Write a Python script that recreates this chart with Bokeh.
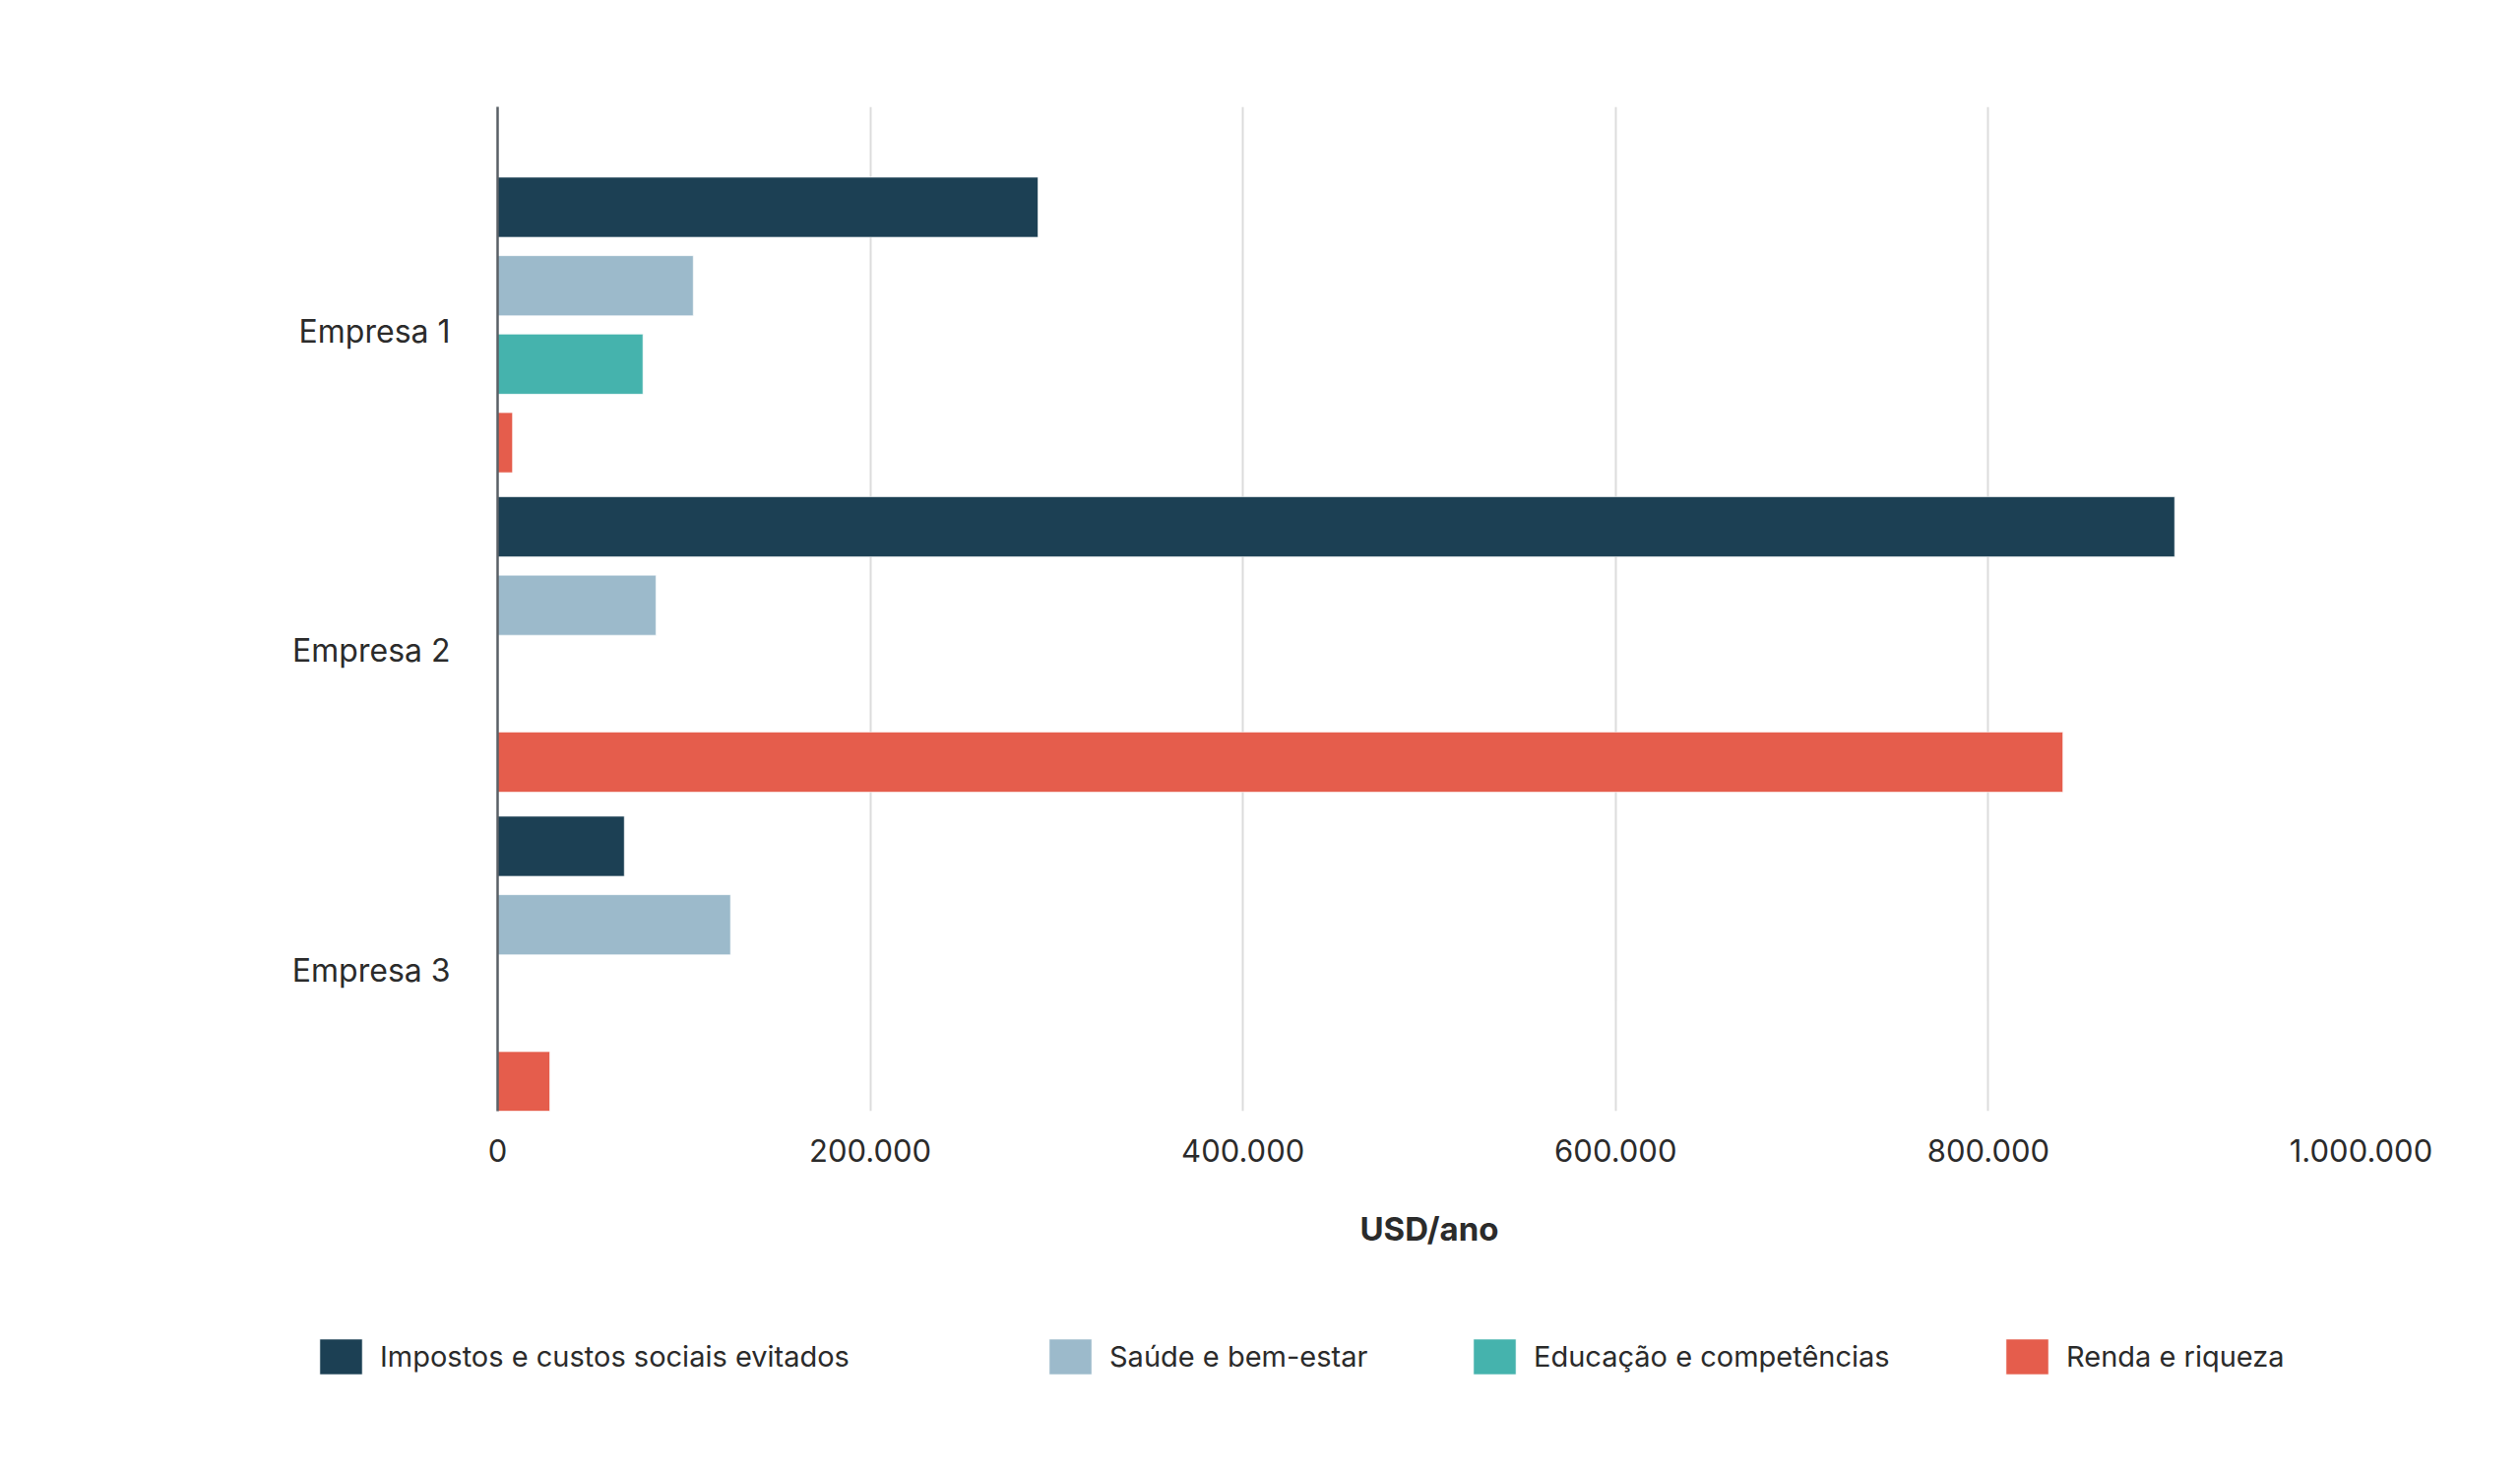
import numpy as np
from bokeh.plotting import figure
from bokeh.models import (ColumnDataSource, Range1d, FixedTicker, CustomJSTickFormatter,
                          Legend, LegendItem)
from bokeh.transform import dodge
from bokeh.embed import file_html
from bokeh.resources import INLINE

# ---- data ----
companies = ["Empresa 1", "Empresa 2", "Empresa 3"]
series_names = ["Impostos e custos sociais evitados", "Saúde e bem-estar",
                "Educação e competências", "Renda e riqueza"]
impostos = [290000, 900000, 68000]
saude = [105000, 85000, 125000]
educacao = [78000, None, None]
renda = [8000, 840000, 28000]
x_ticks = [0, 200000, 400000, 600000, 800000, 1000000]

colors = ["#1C4054", "#9CBACB", "#45B3AD", "#E55D4C"]
FONT = "Inter"
TXT = "#2b2b2b"
W = 2544

pos = list(range(len(companies)))
src = ColumnDataSource(dict(
    pos=pos,
    impostos=np.array(impostos, dtype=float),
    saude=np.array([np.nan if v is None else v for v in saude], dtype=float),
    educacao=np.array([np.nan if v is None else v for v in educacao], dtype=float),
    renda=np.array(renda, dtype=float),
))
cols = ["impostos", "saude", "educacao", "renda"]

p = figure(width=W, height=1330, output_backend="svg", toolbar_location=None,
           x_range=Range1d(0, 1000000), y_range=Range1d(2.4607, -0.6826),
           min_border_left=505, min_border_right=146, min_border_top=108,
           min_border_bottom=202)
p.outline_line_color = None

slot = 0.2456
bar_h = 0.188
for i, c in enumerate(cols):
    off = (i - 1.5) * slot
    p.hbar(y=dodge("pos", off), left=0, right=c, height=bar_h, source=src,
           fill_color=colors[i], line_color="white", line_width=1, line_alpha=0.6)

# grid
p.ygrid.visible = False
p.xgrid.ticker = FixedTicker(ticks=x_ticks)
p.xgrid.grid_line_color = "#dcdcdc"
p.xgrid.grid_line_width = 2

# x axis
xa = p.xaxis[0]
xa.ticker = FixedTicker(ticks=x_ticks)
xa.formatter = CustomJSTickFormatter(code="""
    return Math.round(tick).toString().replace(/\\B(?=(\\d{3})+(?!\\d))/g, '.');
""")
xa.axis_line_color = None
xa.major_tick_line_color = None
xa.minor_tick_line_color = None
xa.major_label_text_font = FONT
xa.major_label_text_font_size = "31px"
xa.major_label_text_color = TXT
xa.major_label_standoff = 22
xa.axis_label = "USD/ano"
xa.axis_label_text_font = FONT
xa.axis_label_text_font_size = "33px"
xa.axis_label_text_font_style = "bold"
xa.axis_label_text_color = TXT
xa.axis_label_standoff = 45

# y axis (labels sit slightly below each group's centre, as in the reference)
label_shift = 0.0185
ya = p.yaxis[0]
ya.ticker = FixedTicker(ticks=[q + label_shift for q in pos])
ya.formatter = CustomJSTickFormatter(args=dict(names=companies), code="""
    return names[Math.round(tick)];
""")
ya.axis_line_color = "#5a6066"
ya.axis_line_width = 2.5
ya.major_tick_line_color = None
ya.minor_tick_line_color = None
ya.major_label_text_font = FONT
ya.major_label_text_font_size = "32px"
ya.major_label_text_color = TXT
ya.major_label_standoff = 42

# ---- legend strip below the chart (separate root, so it is not frame-aligned) ----
# its ranges keep the proxy bars out of view; only their legend swatches show
lf = figure(width=W, height=120, output_backend="svg", toolbar_location=None,
            x_range=Range1d(-2, -1), y_range=Range1d(-2, -1),
            min_border=0, x_axis_type=None, y_axis_type=None)
lf.outline_line_color = None
lf.grid.visible = False
leg_x = [319, 1060, 1491, 2032]
for i, c in enumerate(cols):
    r = lf.hbar(y="pos", left=0, right=c, height=bar_h, source=src,
                fill_color=colors[i], line_color="white", line_width=1, line_alpha=0.6)
    lg = Legend(items=[LegendItem(label=series_names[i], renderers=[r])],
                location=(leg_x[i], 50), orientation="horizontal",
                glyph_width=54, glyph_height=45, label_height=45, label_standoff=13,
                label_text_font=FONT, label_text_font_size="29px",
                label_text_color=TXT, padding=0, margin=0, spacing=0,
                border_line_color=None, background_fill_alpha=0)
    lf.add_layout(lg, "center")

open("out.html", "w").write(file_html([p, lf], INLINE))
